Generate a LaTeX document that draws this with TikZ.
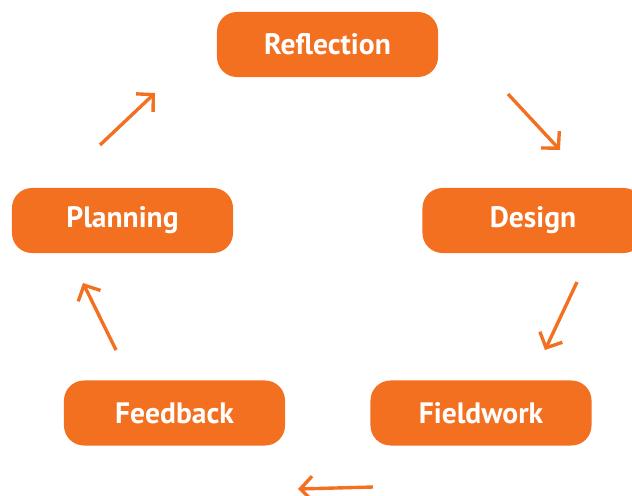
\documentclass[tikz,border=0pt]{standalone}
\usepackage{fontspec}
\setsansfont{PT Sans}
\usepackage{tikz}
\usetikzlibrary{arrows.meta}
\definecolor{stageorange}{HTML}{F37021}

\begin{document}
\begin{tikzpicture}[x=0.025cm, y=-0.025cm,
            stage/.style={draw=none, fill=stageorange, rounded corners=0.5cm, minimum width=5.525cm, minimum height=1.625cm, inner sep=0pt, text=white, font=\sffamily\bfseries\fontsize{21}{25}\selectfont},
            cyclearrow/.style={draw=stageorange, line width=2.4pt, -{Straight Barb[length=0.3cm, width=0.62cm]}}]
            \useasboundingbox (0,0) rectangle (632,495);

            \node[stage] (reflection) at (327.5,44.5) {Reflection};
            \node[stage] (design) at (533,220.5) {Design};
            \node[stage] (fieldwork) at (481,413) {Fieldwork};
            \node[stage] (feedback) at (174.5,413) {Feedback};
            \node[stage] (planning) at (122.5,220.5) {Planning};

            \coordinate (reflectionout) at (508,94);
            \coordinate (designin) at (560,150);
            \coordinate (designout) at (577,282);
            \coordinate (fieldworkin) at (545,350);
            \coordinate (fieldworkout) at (373,487);
            \coordinate (feedbackin) at (298,489);
            \coordinate (feedbackout) at (116,350);
            \coordinate (planningin) at (83,283);
            \coordinate (planningout) at (100,145);
            \coordinate (reflectionin) at (155,93);

            \draw[cyclearrow] (reflectionout) -- (designin);
            \draw[cyclearrow] (designout) -- (fieldworkin);
            \draw[cyclearrow] (fieldworkout) -- (feedbackin);
            \draw[cyclearrow] (feedbackout) -- (planningin);
            \draw[cyclearrow] (planningout) -- (reflectionin);
\end{tikzpicture}
\end{document}
